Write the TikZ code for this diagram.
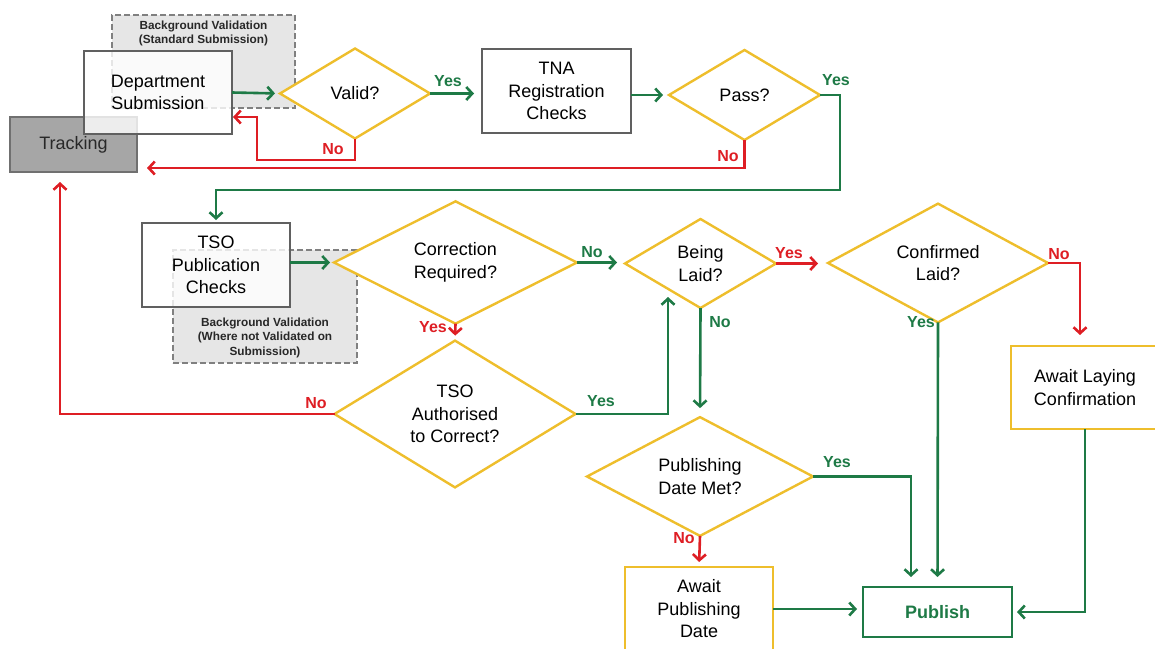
\documentclass[tikz,border=0pt]{standalone}
\usepackage{fontspec}
\setmainfont{Liberation Sans}
\usetikzlibrary{shapes.geometric,arrows.meta}
\definecolor{ylw}{RGB}{238,190,44}
\definecolor{grn}{RGB}{30,122,70}
\definecolor{rd}{RGB}{222,30,36}
\definecolor{bxgray}{RGB}{96,96,96}
\definecolor{trackgray}{RGB}{166,166,166}
\definecolor{bgfill}{RGB}{230,230,230}
\definecolor{dashgray}{RGB}{128,128,128}
\definecolor{darktext}{RGB}{40,40,40}

\begin{document}
\begin{tikzpicture}
	[x=1pt,y=-1pt,
	box/.style={rectangle, draw=bxgray, line width=2.4pt, fill=white, fill opacity=.8, text opacity=1, align=center, inner sep=0pt, outer sep=0pt, font=\fontsize{18}{22.5}\selectfont},
	ybox/.style={box, draw=ylw},
	dia/.style={diamond, draw=ylw, line width=2.4pt, fill=white, align=center, inner sep=0pt, outer sep=0pt, font=\fontsize{18}{22.5}\selectfont},
	bgbox/.style={rectangle, draw=dashgray, dash pattern=on 6pt off 3pt, line width=2pt, fill=bgfill, inner sep=0pt},
	bgtext/.style={align=center, text=darktext, font=\bfseries\fontsize{11.8}{14.5}\selectfont},
	glbl/.style={text=grn, font=\bfseries\fontsize{16}{18}\selectfont},
	rlbl/.style={text=rd, font=\bfseries\fontsize{16}{18}\selectfont},
	gline/.style={draw=grn, line width=2.6pt, -{Straight Barb[length=6pt,width=13pt]}},
	rline/.style={gline, draw=rd}]
	\useasboundingbox (0,0) rectangle (1155,648);
	
	% background validation boxes
	\node[bgbox, minimum width=183pt, minimum height=93pt] (n15) at (203.5,61.5) {};
	\node[bgtext] (t1) at (203.5,33.5) {Background Validation\\(Standard Submission)};
	\node[bgbox, minimum width=184pt, minimum height=113pt] (n16) at (265,306.5) {};
	\node[bgtext] (t2) at (265,337.5) {Background Validation\\(Where not Validated on\\Submission)};
	
	\node[box, fill=trackgray, fill opacity=1, draw=bxgray!90, text=darktext, minimum width=127pt, minimum height=55pt] (n2) at (73.5,144.5) {Tracking};
	\node[box, minimum width=148pt, minimum height=83pt] (n1) at (158,92.5) {Department\\Submission};
	\node[dia, minimum width=150pt, minimum height=90pt] (n3) at (355,93.5) {Valid?};
	\node[box, minimum width=149pt, minimum height=84pt] (n4) at (556.5,91) {TNA\\Registration\\Checks};
	\node[dia, minimum width=151pt, minimum height=90pt] (n5) at (744.5,95) {Pass?};
	\node[box, minimum width=148pt, minimum height=84pt] (n6) at (216,265) {TSO\\Publication\\Checks};
	\node[dia, minimum width=243pt, minimum height=111pt] (n7) at (455.5,262.5) {Correction\\Required?};
	\node[dia, minimum width=241pt, minimum height=112pt] (n8) at (455,414) {TSO\\Authorised\\to Correct?};
	\node[dia, minimum width=151pt, minimum height=89pt] (n9) at (700.5,263.5) {Being\\Laid?};
	\node[dia, minimum width=220pt, minimum height=90pt] (n10) at (938,263) {Confirmed\\Laid?};
	\node[dia, minimum width=226pt, minimum height=103pt] (n11) at (700,476.5) {Publishing\\Date Met?};
	\node[ybox, minimum width=148pt, minimum height=83pt] (n12) at (1085,387.5) {Await Laying\\Confirmation};
	\node[ybox, minimum width=148pt, minimum height=84pt] (n13) at (699,609) {Await\\Publishing\\Date};
	\node[box, draw=grn, text=grn, font=\bfseries\fontsize{18}{22.5}\selectfont, minimum width=149pt, minimum height=50pt] (n14) at (937.5,612) {Publish};
	
	\coordinate (c1) at (257,160);
	\coordinate (c2) at (840,190);
	\coordinate (c3) at (668,297);
	
	% straight connectors
	\foreach \from/\to/\s in {n1.east/n3.west/5,n9.south/n11.north/9,n10.south/n14.north/10}
	\draw[gline, shorten >=\s pt] (\from) -- (\to);
	\foreach \from/\to/\s in {n7.south/n8.north/5,n11.south/n13.north/5}
	\draw[rline, shorten >=\s pt] (\from) -- (\to);
	\draw[gline, shorten >=8pt] (n3.east) -- (n3.east -| n4.west);
	\draw[gline, shorten >=6pt] (n4.east |- n5.west) -- (n5.west);
	\draw[gline, shorten >=4pt] (n6.east |- n7.west) -- (n7.west);
	\draw[gline, shorten >=8pt] (n7.east) -- (n7.east -| n9.west);
	\draw[rline, shorten >=10pt] (n9.east) -- (n9.east -| n10.west);
	\draw[gline, shorten >=6pt] (n13.east) -- (n13.east -| n14.west);
	
	% bent connectors
	\draw[rline, shorten >=1pt] (n3.south) |- (c1) |- ([yshift=-24.5pt]n1.east);
	\draw[rline, shorten >=10pt] (n5.south) |- ([yshift=-23.5pt]n2.east);
	\draw[gline, shorten >=3pt] (n5.east) -| (c2) -| (n6.north);
	\draw[rline, shorten >=10pt] (n8.west) -| ([xshift=-13.5pt]n2.south);
	\draw[gline] (n8.east) -| (c3);
	\draw[rline, shorten >=11pt] (n10.east) -| ([xshift=-5pt]n12.north);
	\draw[gline, shorten >=10pt] (n11.east) -| ([xshift=-26.5pt]n14.north);
	\draw[gline, shorten >=5pt] (n12.south) |- (n14.east);
	
	% labels
	\node[rlbl] (l1) at (333,149) {No};
	\node[glbl] (l2) at (448,81) {Yes};
	\node[glbl] (l3) at (836,80) {Yes};
	\node[rlbl] (l4) at (728,156) {No};
	\node[glbl] (l5) at (592,252) {No};
	\node[rlbl] (l6) at (433,327) {Yes};
	\node[rlbl] (l7) at (316,403) {No};
	\node[glbl] (l8) at (601,401) {Yes};
	\node[rlbl] (l9) at (789,253) {Yes};
	\node[glbl] (l10) at (720,322) {No};
	\node[rlbl] (l11) at (1059,254) {No};
	\node[glbl] (l12) at (921,322) {Yes};
	\node[glbl] (l13) at (837,462) {Yes};
	\node[rlbl] (l14) at (684,538) {No};
\end{tikzpicture}
\end{document}
